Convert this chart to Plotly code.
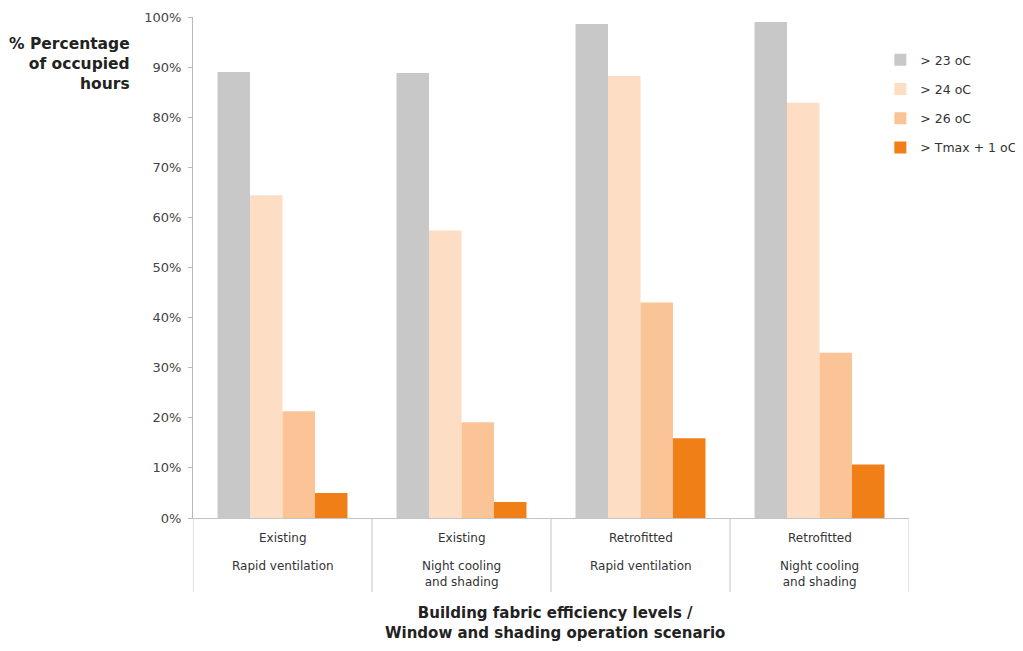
import plotly.graph_objects as go

categories = ["Existing|Rapid ventilation", "Existing|Night cooling<br>and shading",
              "Retrofitted|Rapid ventilation", "Retrofitted|Night cooling<br>and shading"]
top_labels = ["Existing", "Existing", "Retrofitted", "Retrofitted"]
bottom_labels = ["Rapid ventilation", "Night cooling<br>and shading",
                 "Rapid ventilation", "Night cooling<br>and shading"]

series_names = ["> 23 oC", "> 24 oC", "> 26 oC", "> Tmax + 1 oC"]
v23 = [0.89, 0.888, 0.986, 0.99]
v24 = [0.644, 0.574, 0.882, 0.829]
v26 = [0.213, 0.191, 0.430, 0.330]
vtmax = [0.050, 0.032, 0.159, 0.107]
series_values = [v23, v24, v26, vtmax]
colors = ["#c8c8c8", "#fdddc3", "#fbc497", "#ef7f16"]

y_ticks = [i / 10 for i in range(11)]

fig = go.Figure()
for name, vals, col in zip(series_names, series_values, colors):
    fig.add_trace(go.Bar(x=categories, y=vals, name=name, marker_color=col,
                         marker_line_width=0, legendgroup=name))

font = "DejaVu Sans, sans-serif"
fig.update_layout(
    width=1015, height=643,
    margin=dict(l=185, r=114, t=9, b=133, autoexpand=False),
    paper_bgcolor="white", plot_bgcolor="white",
    barmode="group", bargap=0.274, bargroupgap=0,
    font=dict(family=font, size=12, color="#333333"),
    showlegend=True,
    legend=dict(x=0.96, xanchor="left", y=0.944, yanchor="top",
                font=dict(size=12.5, color="#333333"),
                traceorder="grouped", tracegroupgap=10,
                itemwidth=30, bgcolor="rgba(0,0,0,0)"),
    xaxis=dict(showticklabels=False, showline=True, linecolor="#c4c4c4",
               linewidth=1, ticks="", showgrid=False, zeroline=False,
               range=[-0.5, 3.5], automargin=False),
    yaxis=dict(range=[0, 1], tickvals=y_ticks, tickformat=".0%",
               showline=True, linecolor="#b8b8b8", linewidth=1,
               ticks="outside", ticklen=4, tickcolor="#b8b8b8",
               ticklabelstandoff=4,
               showgrid=False, zeroline=False, automargin=False,
               tickfont=dict(size=13, color="#444444")),
)

# category dividers below axis
for b in [-0.5, 0.5, 1.5, 2.5, 3.5]:
    fig.add_shape(type="line", xref="x", yref="paper", x0=b, x1=b, y0=0, y1=-0.148,
                  line=dict(color="#c4c4c4", width=1))

for cat, top, bot in zip(categories, top_labels, bottom_labels):
    fig.add_annotation(x=cat, xref="x", yref="paper", y=-0.022, yanchor="top",
                       text=top, showarrow=False, font=dict(size=12, color="#333333"))
    fig.add_annotation(x=cat, xref="x", yref="paper", y=-0.078, yanchor="top",
                       text=bot, showarrow=False, font=dict(size=12, color="#333333"))

fig.add_annotation(xref="paper", yref="paper", x=-0.085, xanchor="right",
                   y=0.968, yanchor="top", align="right", showarrow=False,
                   text="<b>% Percentage<br>of occupied<br>hours</b>",
                   font=dict(size=15.5, color="#222222"))
fig.add_annotation(xref="paper", yref="paper", x=0.505, xanchor="center",
                   y=-0.168, yanchor="top", align="center", showarrow=False,
                   text="<b>Building fabric efficiency levels /<br>Window and shading operation scenario</b>",
                   font=dict(size=15, color="#222222"))

fig.write_html("out.html")
